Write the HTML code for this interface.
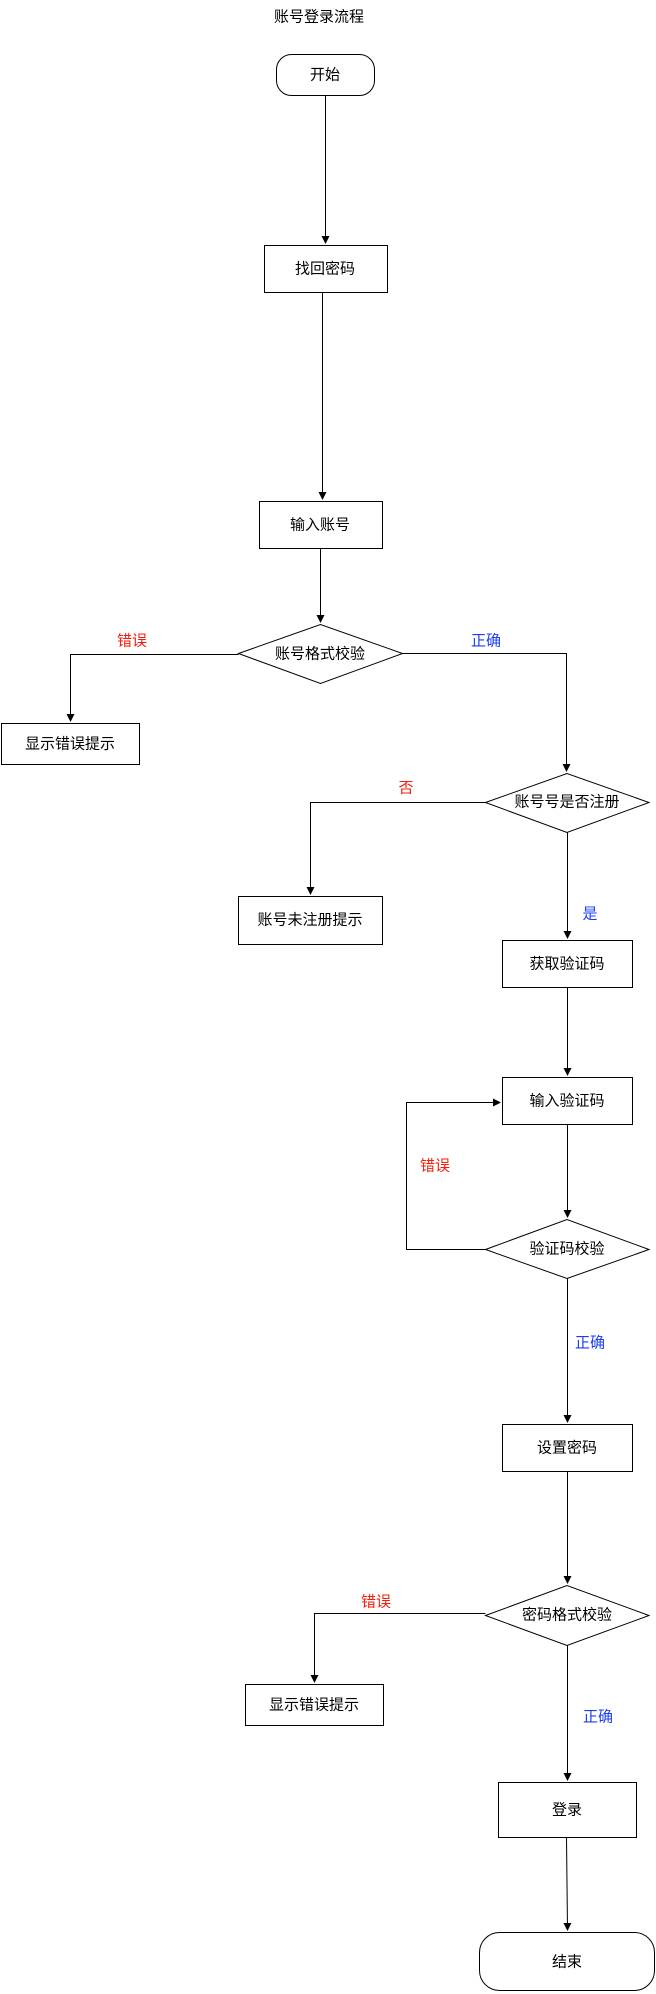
<!DOCTYPE html>
<html><head><meta charset="utf-8"><style>
html,body{margin:0;padding:0;background:#fff;}
svg{display:block;}
text{font-family:"Liberation Sans","Noto Sans CJK SC",sans-serif;font-size:15px;text-anchor:middle;dominant-baseline:central;fill:#000;}
.r{fill:#f41c0c;} .b{fill:#1a3cf0;}
</style></head><body>
<svg width="656" height="1994" viewBox="0 0 656 1994" xmlns="http://www.w3.org/2000/svg">
<defs><marker id="a" markerWidth="8" markerHeight="8" refX="7" refY="4" orient="auto" markerUnits="userSpaceOnUse"><path d="M0,0 L8,4 L0,8 z" fill="#000"/></marker></defs>
<g fill="none" stroke="#000" stroke-width="1">
<rect x="276.5" y="54.5" width="98" height="41" rx="15"/>
<rect x="264.5" y="245.5" width="123" height="47"/>
<rect x="259.5" y="501.5" width="123" height="47"/>
<polygon points="238.5,653.5 320.5,624.5 402.5,653.5 320.5,683.5"/>
<rect x="1.5" y="723.5" width="138" height="41"/>
<polygon points="485.5,802.5 567,773.5 649,802.5 567,832.5"/>
<rect x="238.5" y="896.5" width="144" height="48"/>
<rect x="502.5" y="940.5" width="130" height="47"/>
<rect x="502.5" y="1077.5" width="130" height="47"/>
<polygon points="485.5,1249.5 567,1219.5 649,1249.5 567,1278.5"/>
<rect x="502.5" y="1424.5" width="130" height="47"/>
<polygon points="485.5,1615.5 567,1585.5 649,1615.5 567,1645.5"/>
<rect x="245.5" y="1684.5" width="138" height="41"/>
<rect x="498.5" y="1782.5" width="138" height="55"/>
<rect x="479.5" y="1932.5" width="175" height="58" rx="20"/>

<path d="M325.5,95.5 V243" marker-end="url(#a)"/>
<path d="M322.5,292.5 V499" marker-end="url(#a)"/>
<path d="M320.5,548.5 V622" marker-end="url(#a)"/>
<path d="M238.5,654.5 H70.5 V721" marker-end="url(#a)"/>
<path d="M402.5,653.5 H566.5 V771" marker-end="url(#a)"/>
<path d="M485.5,802.5 H310.5 V894" marker-end="url(#a)"/>
<path d="M567.5,832.5 V938" marker-end="url(#a)"/>
<path d="M567.5,987.5 V1075" marker-end="url(#a)"/>
<path d="M567.5,1124.5 V1217" marker-end="url(#a)"/>
<path d="M485.5,1249.5 H406.5 V1102.5 H500" marker-end="url(#a)"/>
<path d="M567.5,1278.5 V1422" marker-end="url(#a)"/>
<path d="M567.5,1471.5 V1583" marker-end="url(#a)"/>
<path d="M485.5,1613.5 H314.5 V1682" marker-end="url(#a)"/>
<path d="M567.5,1645.5 V1780" marker-end="url(#a)"/>
<path d="M566.5,1837.5 L567.5,1930" marker-end="url(#a)"/>
</g>
<text x="319" y="17">账号登录流程</text>
<text x="325" y="75">开始</text>
<text x="325" y="269">找回密码</text>
<text x="320" y="525">输入账号</text>
<text x="320" y="654">账号格式校验</text>
<text class="r" x="132" y="641">错误</text>
<text class="b" x="486" y="641">正确</text>
<text x="70" y="744">显示错误提示</text>
<text x="567" y="802">账号号是否注册</text>
<text class="r" x="406" y="788">否</text>
<text x="310" y="920">账号未注册提示</text>
<text class="b" x="590" y="914">是</text>
<text x="567" y="964">获取验证码</text>
<text x="567" y="1101">输入验证码</text>
<text x="567" y="1249">验证码校验</text>
<text class="r" x="435" y="1166">错误</text>
<text class="b" x="590" y="1343">正确</text>
<text x="567" y="1448">设置密码</text>
<text x="567" y="1615">密码格式校验</text>
<text class="r" x="376" y="1602">错误</text>
<text x="314" y="1705">显示错误提示</text>
<text class="b" x="598" y="1717">正确</text>
<text x="567" y="1810">登录</text>
<text x="567" y="1962">结束</text>
</svg>
</body></html>
